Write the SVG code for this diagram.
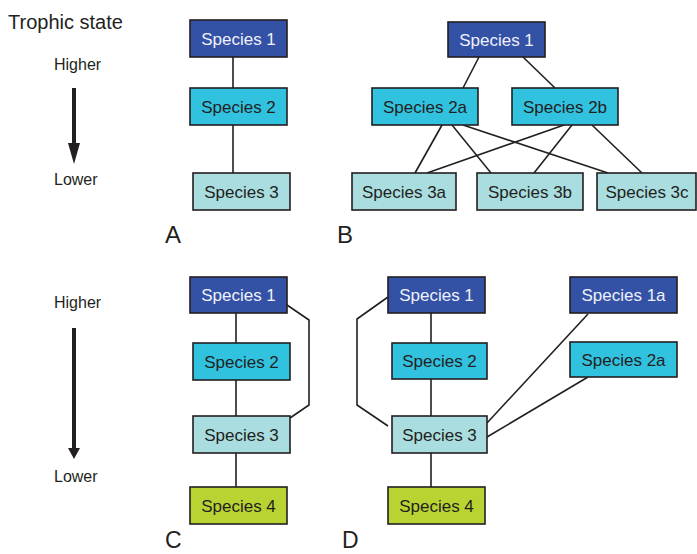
<svg xmlns="http://www.w3.org/2000/svg" width="697" height="554" viewBox="0 0 697 554">
  <style>
    .box { stroke: #231f20; stroke-width: 1.6; }
    .t1 { fill: #3452a5; }
    .t2 { fill: #31c2e0; }
    .t3 { fill: #a9dddf; }
    .t4 { fill: #b9d432; }
    .lbl { font-family: "Liberation Sans", Arial, sans-serif; font-size: 17px; text-anchor: middle; fill: #231f20; }
    .lbl.light { fill: #eef1fa; }
    .side { font-family: "Liberation Sans", Arial, sans-serif; font-size: 16px; fill: #231f20; }
    .panel { font-family: "Liberation Sans", Arial, sans-serif; font-size: 24px; fill: #231f20; }
    .link { fill: none; stroke: #231f20; stroke-width: 1.6; stroke-linejoin: miter; }
  </style>

  <rect width="697" height="554" fill="#ffffff"/>

  <!-- trophic axis, upper -->
  <g id="axis-top">
    <text x="8" y="29" style="font-family:'Liberation Sans',Arial,sans-serif;font-size:20px;fill:#231f20">Trophic state</text>
    <text class="side" x="54" y="70">Higher</text>
    <line x1="74" y1="88" x2="74" y2="146" stroke="#231f20" stroke-width="4"/>
    <path d="M68,143 L80,143 L74,164 Z" fill="#231f20"/>
    <text class="side" x="54" y="185">Lower</text>
  </g>

  <!-- trophic axis, lower -->
  <g id="axis-bottom">
    <text class="side" x="54" y="308">Higher</text>
    <line x1="74" y1="328" x2="74" y2="451" stroke="#231f20" stroke-width="4"/>
    <path d="M68,448 L80,448 L74,459 Z" fill="#231f20"/>
    <text class="side" x="54" y="482">Lower</text>
  </g>

  <!-- connectors -->
  <g id="connectors">
    <!-- A -->
    <line class="link" x1="233" y1="57" x2="233" y2="88"/>
    <line class="link" x1="233" y1="125" x2="233" y2="173"/>
    <!-- B -->
    <line class="link" x1="479" y1="57" x2="463" y2="88"/>
    <line class="link" x1="523" y1="57" x2="555" y2="88"/>
    <line class="link" x1="442" y1="125" x2="415" y2="173"/>
    <line class="link" x1="452" y1="125" x2="491" y2="173"/>
    <line class="link" x1="463" y1="125" x2="608" y2="173"/>
    <line class="link" x1="564" y1="125" x2="427" y2="173"/>
    <line class="link" x1="572" y1="125" x2="534" y2="173"/>
    <line class="link" x1="592" y1="125" x2="642" y2="173"/>
    <!-- C -->
    <line class="link" x1="236" y1="313" x2="236" y2="343"/>
    <line class="link" x1="236" y1="380" x2="236" y2="416"/>
    <line class="link" x1="236" y1="453" x2="236" y2="487"/>
    <polyline class="link" points="287,305 309,320 309,405 290,418"/>
    <!-- D -->
    <line class="link" x1="431" y1="313" x2="431" y2="343"/>
    <line class="link" x1="431" y1="379" x2="431" y2="416"/>
    <line class="link" x1="431" y1="453" x2="431" y2="487"/>
    <polyline class="link" points="388,297 357,319 357,405 388,426"/>
    <line class="link" x1="588" y1="314" x2="487" y2="423"/>
    <line class="link" x1="588" y1="377" x2="487" y2="437"/>
  </g>

  <!-- panel A -->
  <g id="a-species1"><rect class="box t1" x="190" y="20" width="97" height="37"/><text class="lbl light" x="238.5" y="44.5">Species 1</text></g>
  <g id="a-species2"><rect class="box t2" x="190" y="88" width="97" height="37"/><text class="lbl" x="238.5" y="112.5">Species 2</text></g>
  <g id="a-species3"><rect class="box t3" x="193" y="173" width="97" height="37"/><text class="lbl" x="241.5" y="197.5">Species 3</text></g>
  <text class="panel" x="165" y="243">A</text>

  <!-- panel B -->
  <g id="b-species1"><rect class="box t1" x="448" y="22" width="97" height="35"/><text class="lbl light" x="496.5" y="45.5">Species 1</text></g>
  <g id="b-species2a"><rect class="box t2" x="372" y="88" width="106" height="37"/><text class="lbl" x="425" y="112.5">Species 2a</text></g>
  <g id="b-species2b"><rect class="box t2" x="512" y="88" width="106" height="37"/><text class="lbl" x="565" y="112.5">Species 2b</text></g>
  <g id="b-species3a"><rect class="box t3" x="352" y="173" width="104" height="37"/><text class="lbl" x="404" y="197.5">Species 3a</text></g>
  <g id="b-species3b"><rect class="box t3" x="477" y="173" width="106" height="37"/><text class="lbl" x="530" y="197.5">Species 3b</text></g>
  <g id="b-species3c"><rect class="box t3" x="597" y="173" width="99" height="37"/><text class="lbl" x="647" y="197.5">Species 3c</text></g>
  <text class="panel" x="337" y="243">B</text>

  <!-- panel C -->
  <g id="c-species1"><rect class="box t1" x="190" y="277" width="97" height="36"/><text class="lbl light" x="238.5" y="301">Species 1</text></g>
  <g id="c-species2"><rect class="box t2" x="193" y="343" width="97" height="37"/><text class="lbl" x="241.5" y="367.5">Species 2</text></g>
  <g id="c-species3"><rect class="box t3" x="193" y="416" width="97" height="37"/><text class="lbl" x="241.5" y="440.5">Species 3</text></g>
  <g id="c-species4"><rect class="box t4" x="190" y="487" width="97" height="37"/><text class="lbl" x="238.5" y="511.5">Species 4</text></g>
  <text class="panel" x="165" y="548" style="font-size:23px">C</text>

  <!-- panel D -->
  <g id="d-species1"><rect class="box t1" x="388" y="277" width="97" height="36"/><text class="lbl light" x="436.5" y="301">Species 1</text></g>
  <g id="d-species1a"><rect class="box t1" x="570" y="277" width="107" height="36"/><text class="lbl light" x="623.5" y="301">Species 1a</text></g>
  <g id="d-species2"><rect class="box t2" x="392" y="343" width="95" height="36"/><text class="lbl" x="439.5" y="367">Species 2</text></g>
  <g id="d-species2a"><rect class="box t2" x="570" y="342" width="107" height="35"/><text class="lbl" x="623.5" y="365.5">Species 2a</text></g>
  <g id="d-species3"><rect class="box t3" x="392" y="416" width="95" height="37"/><text class="lbl" x="439.5" y="440.5">Species 3</text></g>
  <g id="d-species4"><rect class="box t4" x="388" y="487" width="97" height="37"/><text class="lbl" x="436.5" y="511.5">Species 4</text></g>
  <text class="panel" x="342" y="548" style="font-size:23px">D</text>
</svg>
